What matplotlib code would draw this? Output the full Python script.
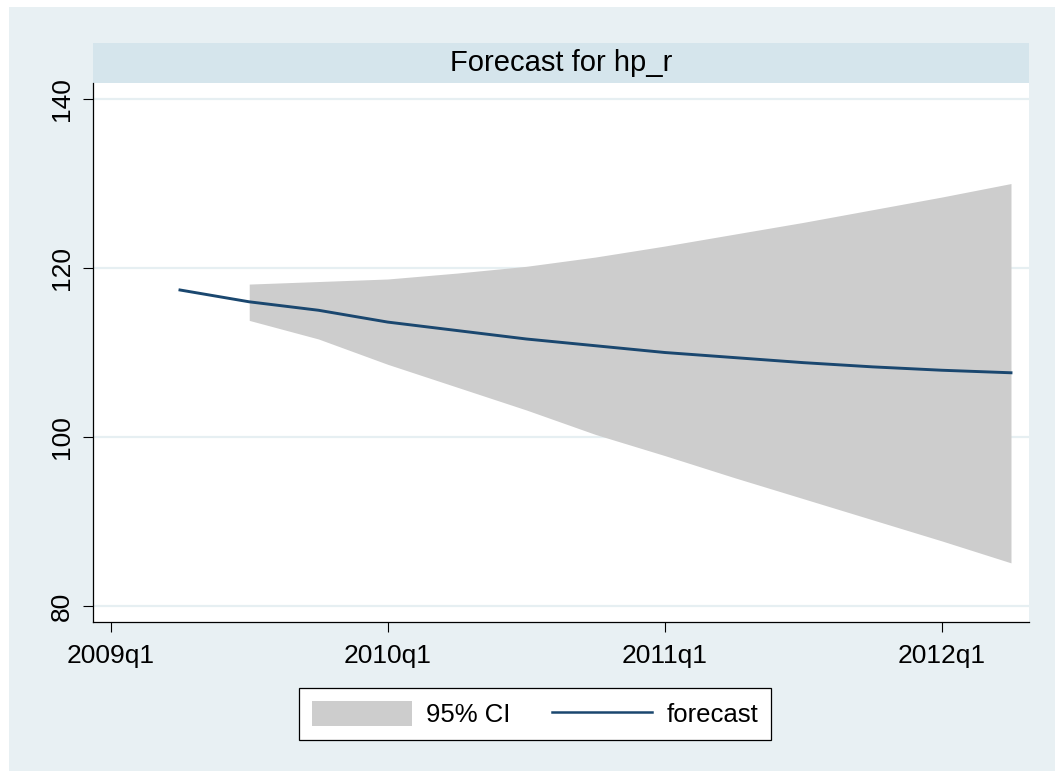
import matplotlib
matplotlib.use("Agg")
import matplotlib.pyplot as plt
from matplotlib.patches import Rectangle, Patch
from matplotlib.lines import Line2D

plt.rcParams['font.family'] = ['Liberation Sans', 'DejaVu Sans']

# Quarterly index: 0 = 2009q1
fc_quarters = [1, 2, 3, 4, 5, 6, 7, 8, 9, 10, 11, 12, 13]
forecast = [117.4, 116.0, 115.0, 113.6, 112.6, 111.6, 110.8, 110.0, 109.4,
            108.8, 108.3, 107.9, 107.6]
ci_quarters = [2, 3, 4, 5, 6, 7, 8, 9, 10, 11, 12, 13]
ci_upper = [118.1, 118.4, 118.7, 119.4, 120.2, 121.3, 122.6, 124.0, 125.4,
            126.9, 128.4, 130.0]
ci_lower = [113.8, 111.6, 108.6, 105.9, 103.2, 100.3, 97.8, 95.2, 92.7,
            90.2, 87.7, 85.1]
x_ticks = [0, 4, 8, 12]
x_labels = ['2009q1', '2010q1', '2011q1', '2012q1']
y_ticks = [80, 100, 120, 140]
title = 'Forecast for hp_r'

BG = '#E8F0F3'
BAR = '#D5E5EC'
GRID = '#E6EFF2'
CI_COL = '#CDCDCD'
LINE_COL = '#1A476F'

W, H = 1055, 773
fig = plt.figure(figsize=(W / 100, H / 100), dpi=100, facecolor='white')

def fx(px):
    return px / W

def fy(py):
    return 1 - py / H

# outer graph region
fig.patches.append(Rectangle((fx(9), fy(771)), fx(W - 9), (771 - 7) / H,
                             transform=fig.transFigure, facecolor=BG,
                             edgecolor='none', zorder=-3))

# title band
fig.patches.append(Rectangle((fx(93), fy(83)), fx(1029 - 93), 40 / H,
                             transform=fig.transFigure, facecolor=BAR,
                             edgecolor='none', zorder=-2))
fig.text(fx(561), fy(71), title, ha='center', va='baseline', fontsize=21,
         color='black')

ax = fig.add_axes([fx(93), fy(622), fx(1029 - 93), (622 - 83) / H])
ax.set_facecolor('white')
ax.fill_between(ci_quarters, ci_lower, ci_upper, color=CI_COL, lw=0,
                zorder=2)
ax.plot(fc_quarters, forecast, color=LINE_COL, lw=2.1, zorder=3)

ax.set_xlim(-0.256, 13.26)
ax.set_ylim(78.1, 141.9)
ax.set_xticks(x_ticks)
ax.set_xticklabels(x_labels)
ax.set_yticks(y_ticks)
ax.set_yticklabels([str(v) for v in y_ticks], rotation=90, va='center')
for y in y_ticks:
    ax.axhline(y, color=GRID, lw=1.6, zorder=1)

for s in ['top', 'right']:
    ax.spines[s].set_visible(False)
for s in ['left', 'bottom']:
    ax.spines[s].set_color('black')
    ax.spines[s].set_linewidth(0.9)
ax.tick_params(axis='both', length=7.5, width=0.8, color='black',
               labelsize=19)
ax.tick_params(axis='x', pad=8)
ax.tick_params(axis='y', pad=6)

handles = [Patch(facecolor=CI_COL, edgecolor='none'),
           Line2D([0], [0], color=LINE_COL, lw=1.8)]
leg = fig.legend(handles, ['95% CI', 'forecast'], ncol=2, loc='center',
                 bbox_to_anchor=(fx(535), fy(714)), fontsize=18.5,
                 frameon=True, fancybox=False, handlelength=3.9,
                 handleheight=1.1, handletextpad=0.55, columnspacing=1.6,
                 borderpad=0.5, borderaxespad=0)
leg.get_frame().set_edgecolor('black')
leg.get_frame().set_linewidth(0.9)
leg.get_frame().set_facecolor('white')
leg.get_frame().set_alpha(1)

fig.savefig('out.png', dpi=100, facecolor='white')
